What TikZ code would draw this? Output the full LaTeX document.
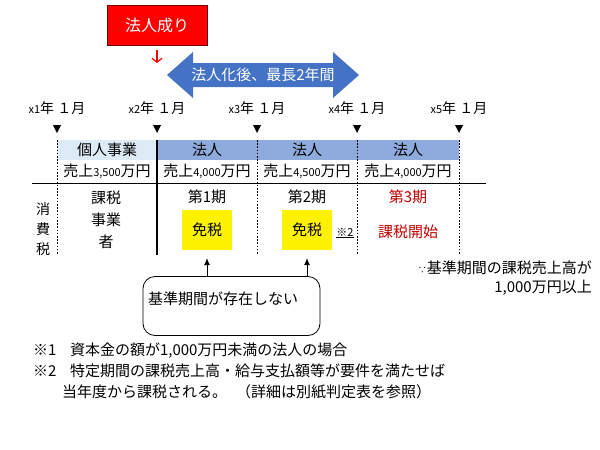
\documentclass[tikz,border=0pt]{standalone}
\usepackage{fontspec}
\setmainfont{Noto Sans CJK JP}
\usetikzlibrary{arrows.meta}
\definecolor{lightcell}{HTML}{DDEBF7}
\definecolor{midcell}{HTML}{8FAADC}
\definecolor{arrowblue}{HTML}{4472C4}
\definecolor{darkred}{HTML}{C00000}
\begin{document}
\begin{tikzpicture}[x=1pt,y=-1pt,
  base/.style={inner sep=0pt, font=\fontsize{15}{18}\selectfont},
  lbl/.style={inner sep=0pt, font=\fontsize{14}{16}\selectfont},
  dotline/.style={line width=0.9pt, dash pattern=on 1.6pt off 1.6pt},
  menzei/.style={fill=yellow, inner sep=0pt, minimum width=50pt, minimum height=40pt, font=\fontsize{15}{18}\selectfont},
  uparrow/.style={line width=0.8pt, -{Latex[length=7pt,width=6pt]}}
]
\useasboundingbox (0,0) rectangle (600,450);

% red box and arrow
\node[draw=red!45!black, line width=0.8pt, fill=red, minimum width=100pt, minimum height=40pt, text=white, inner sep=0pt, font=\fontsize{16}{18}\selectfont] (naru) at (157,25) {法人成り};
\coordinate (rtip) at (157,63);
\draw[red, line width=1.2pt, -{Straight Barb[length=4pt,width=10pt]}] ([yshift=-5pt]naru.south) -- (rtip);

% blue double arrow
\fill[arrowblue] (167,75) -- (193,52) -- (193,63) -- (333,63) -- (333,52) -- (359,75) -- (333,98) -- (333,87) -- (193,87) -- (193,98) -- cycle;
\node[base, text=white] (period) at (263,75) {法人化後、最長2年間};

% timeline
\foreach \i/\x in {1/57,2/157,3/257,4/357,5/459}{
  \node[lbl] (y\i) at (\x,108) {{\fontsize{11}{12}\selectfont x\i}年 １月};
  \fill ({\x-4},125) -- ({\x+4},125) -- (\x,133) -- cycle;
}

% table header fills
\fill[lightcell] (57,140) rectangle (157,160);
\fill[midcell] (157,140) rectangle (459,160);
\node[base] (h1) at (107,150) {個人事業};
\node[base] (h2) at (207,150) {法人};
\node[base] (h3) at (307,150) {法人};
\node[base] (h4) at (408,150) {法人};
\node[base] (s1) at (107,171) {売上{\fontsize{11}{12}\selectfont 3,500}万円};
\node[base] (s2) at (207,171) {売上{\fontsize{11}{12}\selectfont 4,000}万円};
\node[base] (s3) at (307,171) {売上{\fontsize{11}{12}\selectfont 4,500}万円};
\node[base] (s4) at (408,171) {売上{\fontsize{11}{12}\selectfont 4,000}万円};

% lines
\foreach \x in {57,257,357,459}{
  \draw[dotline] (\x,140) -- (\x,255);
}
\draw[line width=2pt] (157,140) -- (157,255);
\draw[line width=1pt] (32,183) -- (486,183);

% left column
\node[lbl] (c1) at (43,209) {消};
\node[lbl] (c2) at (43,229) {費};
\node[lbl] (c3) at (43,249) {税};
\node[base] (k1) at (106,198) {課税};
\node[base] (k2) at (106,220) {事業};
\node[base] (k3) at (106,242) {者};

% periods
\node[base] (p1) at (207,197) {第1期};
\node[menzei] (m1) at (207,230) {免税};
\node[base] (p2) at (307,197) {第2期};
\node[menzei] (m2) at (307,230) {免税};
\node[inner sep=0pt, font=\fontsize{11}{12}\selectfont] (n2) at (345,233) {\underline{※2}};
\node[base, text=darkred] (p3) at (408,197) {第3期};
\node[base, text=darkred] (start) at (408,232) {課税開始};

% reason
\node[base, anchor=east] (r1) at (592,268) {{\fontsize{9}{10}\selectfont ∵}基準期間の課税売上高が};
\node[base, anchor=east] (r2) at (592,288) {1,000万円以上};

% note box
\node[draw, line width=0.8pt, rounded corners=12pt, minimum width=177pt, minimum height=59pt, inner sep=0pt] (box) at (231.5,306) {};
\node[base] (boxtext) at (223,299) {基準期間が存在しない};
\draw[uparrow] (box.north -| m1) -- ([yshift=-8pt]m1.south);
\draw[uparrow] (box.north -| m2) -- ([yshift=-8pt]m2.south);

% footnotes
\node[base, anchor=west] (f1) at (33,351) {※1\hspace{0.9em}資本金の額が1,000万円未満の法人の場合};
\node[base, anchor=west] (f2) at (33,371) {※2\hspace{0.9em}特定期間の課税売上高・給与支払額等が要件を満たせば};
\node[base, anchor=west] (f3) at (62,392) {当年度から課税される。\hspace{0.6em}（詳細は別紙判定表を参照）};
\end{tikzpicture}
\end{document}
